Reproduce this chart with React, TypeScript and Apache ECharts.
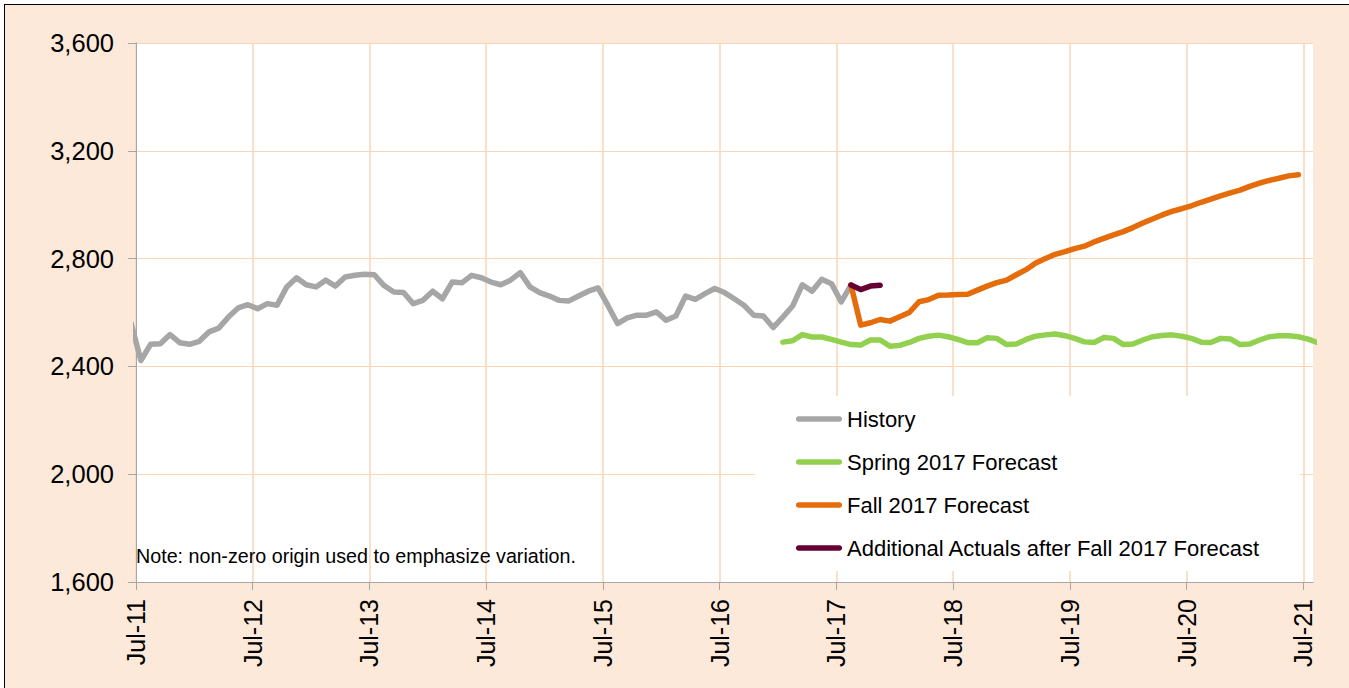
import React, { useEffect, useRef } from "react";
import * as echarts from "echarts";

const MONTHS = ["Jan", "Feb", "Mar", "Apr", "May", "Jun", "Jul", "Aug", "Sep", "Oct", "Nov", "Dec"];

// x axis: monthly, first tick Jul-11, plot ends one month after Jul-21
const xTickLabels = ["Jul-11", "Jul-12", "Jul-13", "Jul-14", "Jul-15", "Jul-16", "Jul-17", "Jul-18", "Jul-19", "Jul-20", "Jul-21"];
const axisStart = "Jul-11";
const axisEnd = "Aug-21";

// y axis
const yMin = 1600;
const yMax = 3600;
const yStep = 400;

// series (monthly values, first value at the given month)
const historyStart = "Jun-11";
const historyValues = [
  2560, 2422, 2482, 2484, 2518, 2488, 2482, 2493, 2528, 2542, 2583, 2617,
  2629, 2614, 2633, 2627, 2695, 2729, 2703, 2695, 2720, 2698, 2732, 2738,
  2742, 2740, 2700, 2676, 2674, 2633, 2645, 2679, 2651, 2713, 2710, 2738,
  2729, 2713, 2703, 2720, 2748, 2695, 2674, 2661, 2645, 2643, 2661, 2679,
  2691, 2627, 2559, 2580, 2590, 2590, 2602, 2571, 2587, 2661, 2649, 2670,
  2689, 2674, 2651, 2627, 2590, 2587, 2544, 2583, 2624, 2703, 2679, 2723,
  2707, 2639, 2702,
];

const springStart = "Jan-17";
const springValues = [
  2490, 2495, 2518, 2509, 2509, 2500, 2490, 2481, 2479, 2498, 2498, 2475,
  2478, 2489, 2504, 2512, 2516, 2510, 2500, 2488, 2488, 2506, 2504, 2481,
  2483, 2500, 2512, 2517, 2520, 2514, 2504, 2491, 2489, 2507, 2504, 2481,
  2483, 2498, 2510, 2515, 2517, 2512, 2504, 2490, 2489, 2504, 2502, 2481,
  2483, 2498, 2510, 2514, 2514, 2510, 2501, 2488,
];

const fallStart = "Aug-17";
const fallValues = [
  2702, 2553, 2562, 2574, 2568, 2584, 2600, 2640, 2648, 2664, 2665, 2667,
  2668, 2683, 2698, 2711, 2720, 2740, 2759, 2784, 2800, 2816, 2826, 2837,
  2846, 2862, 2875, 2888, 2900, 2915, 2932, 2947, 2962, 2975, 2985, 2996,
  3009, 3021, 3033, 3044, 3054, 3068, 3080, 3090, 3098, 3107, 3111,
];

const actualsStart = "Aug-17";
const actualsValues = [2702, 2685, 2698, 2701];

const seriesNames = [
  "History",
  "Spring 2017 Forecast",
  "Fall 2017 Forecast",
  "Additional Actuals after Fall 2017 Forecast",
];
const seriesColors = ["#A6A6A6", "#92D050", "#E46C0A", "#660033"];

const noteText = "Note: non-zero origin used to emphasize variation.";

const FONT = "'Liberation Sans', Arial, sans-serif";

function monthIndex(label: string): number {
  const [m, y] = label.split("-");
  return (2000 + Number(y)) * 12 + MONTHS.indexOf(m);
}
const origin = monthIndex(axisStart);
// monthly observations are plotted mid-month
function toPoints(start: string, values: number[]): number[][] {
  const s = monthIndex(start) - origin;
  return values.map((v, i) => [s + i + 0.5, v]);
}

const tickValues = xTickLabels.map((l) => monthIndex(l) - origin);

const CAPSULE = "path://M2.75,0 L43.25,0 A2.75,2.75 0 0 1 43.25,5.5 L2.75,5.5 A2.75,2.75 0 0 1 2.75,0 Z";

export default function App() {
  const ref = useRef<HTMLDivElement>(null);

  useEffect(() => {
    if (!ref.current) return;
    const chart = echarts.init(ref.current, null, { renderer: "svg" });
    const datasets = [
      toPoints(historyStart, historyValues),
      toPoints(springStart, springValues),
      toPoints(fallStart, fallValues),
      toPoints(actualsStart, actualsValues),
    ];
    chart.setOption({
      animation: false,
      backgroundColor: "transparent",
      textStyle: { fontFamily: FONT },
      grid: {
        left: 136,
        top: 43,
        right: 36,
        bottom: 106,
        show: true,
        backgroundColor: "#ffffff",
        borderWidth: 0,
      },
      xAxis: {
        type: "value",
        min: 0,
        max: monthIndex(axisEnd) - origin,
        interval: 12,
        axisLine: { show: true, lineStyle: { color: "#A6A6A6", width: 1 } },
        axisTick: {
          show: true,
          length: 8,
          customValues: tickValues,
          lineStyle: { color: "#A6A6A6" },
        },
        splitLine: { show: true, lineStyle: { color: "#FBD5B5", width: 1.5 } },
        axisLabel: {
          customValues: tickValues,
          rotate: 90,
          margin: 17,
          fontSize: 25,
          color: "#000",
          fontFamily: FONT,
          formatter: (v: number) => {
            const i = tickValues.indexOf(Math.round(v));
            return i >= 0 ? xTickLabels[i] : "";
          },
        },
      },
      yAxis: {
        type: "value",
        min: yMin,
        max: yMax,
        interval: yStep,
        axisLine: { show: true, lineStyle: { color: "#A6A6A6", width: 1 } },
        axisTick: { show: true, length: 8, lineStyle: { color: "#A6A6A6" } },
        splitLine: { show: true, lineStyle: { color: "#FBD5B5", width: 1.2 } },
        axisLabel: {
          margin: 22,
          fontSize: 25.5,
          color: "#000",
          fontFamily: FONT,
          formatter: (v: number) => v.toLocaleString("en-US"),
        },
      },
      legend: {
        orient: "vertical",
        left: 796,
        top: 408,
        padding: 0,
        itemWidth: 46,
        itemHeight: 5.5,
        itemGap: 21,
        textStyle: { fontSize: 22, color: "#000", fontFamily: FONT, lineHeight: 22 },
        data: seriesNames.map((n) => ({ name: n, icon: CAPSULE })),
      },
      graphic: [
        {
          type: "rect",
          shape: { x: 755, y: 396, width: 545, height: 175 },
          style: { fill: "#ffffff" },
          z: 1,
          silent: true,
        },
        {
          type: "text",
          left: 136,
          top: 546,
          style: { text: noteText, font: `19.7px ${FONT}`, fill: "#000" },
          z: 5,
        },
      ],
      series: datasets.map((d, i) => ({
        name: seriesNames[i],
        type: "line",
        data: d,
        symbol: "none",
        showSymbol: false,
        clip: true,
        z: 2 + i,
        color: seriesColors[i],
        lineStyle: { width: 5.5, color: seriesColors[i], cap: "round", join: "round" },
        itemStyle: { color: seriesColors[i] },
      })),
    });
    return () => chart.dispose();
  }, []);

  return (
    <div style={{ position: "fixed", left: 0, top: 0, width: 1349, height: 688, overflow: "hidden", background: "#ffffff" }}>
      <div
        style={{
          position: "absolute",
          left: 4,
          top: 4,
          width: 1400,
          height: 750,
          background: "#FDE9D9",
          borderLeft: "1px solid #000",
          borderTop: "1px solid #000",
        }}
      />
      <div ref={ref} style={{ position: "absolute", left: 0, top: 0, width: 1349, height: 688 }} />
    </div>
  );
}
